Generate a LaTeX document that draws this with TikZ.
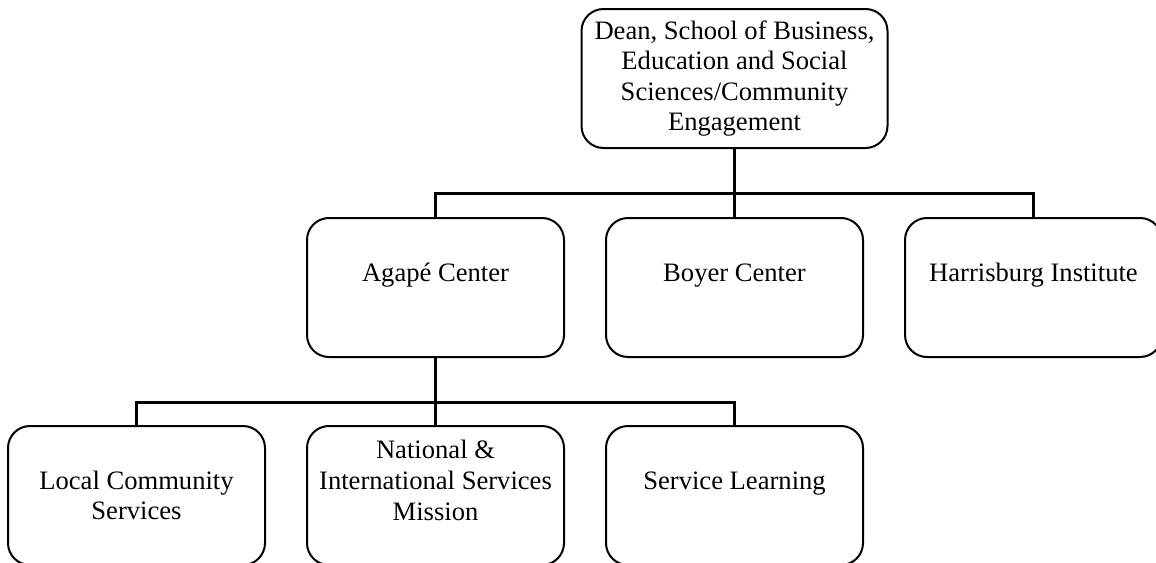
\documentclass[tikz,border=0pt]{standalone}
\usepackage{fontspec}
\setmainfont{Liberation Serif}
\usepackage{tikz}

\begin{document}
\begin{tikzpicture}[
    x=0.5pt, y=-0.5pt,
    unit/.style={draw, line width=1pt, rounded corners=11pt,
      minimum width=128.5pt, minimum height=69.5pt,
      inner sep=0pt, align=center,
      font=\fontsize{13.3}{15.3}\selectfont},
    link/.style={line width=1.5pt}
  ]
  \useasboundingbox (0,0) rectangle (1156,562);

  % верхний блок
  \node[unit, minimum width=153pt] (dean) at (734.5,78.5)
    {Dean, School of Business,\\Education and Social\\Sciences/Community\\Engagement};

  % второй уровень
  \node[unit] (agape)  at (435.5,287.5)  {Agapé Center\\ \mbox{}};
  \node[unit] (boyer)  at (734.5,287.5)  {Boyer Center\\ \mbox{}};
  \node[unit] (harris) at (1033.5,287.5) {Harrisburg Institute\\ \mbox{}};

  % третий уровень
  \node[unit] (local)    at (136.5,495.5) {Local Community\\Services};
  \node[unit] (national) at (435.5,495.5) {National \&\\International Services\\Mission\\ \mbox{}};
  \node[unit] (service)  at (734.5,495.5) {Service Learning\\ \mbox{}};

  % линии связи
  \coordinate (busA) at (734.5,193);
  \draw[link] (dean.south) -- (busA);
  \foreach \n in {agape,boyer,harris}
    \draw[link] (busA) -| (\n.north);

  \coordinate (busB) at (435.5,402);
  \draw[link] (agape.south) -- (busB);
  \foreach \n in {local,national,service}
    \draw[link] (busB) -| (\n.north);
\end{tikzpicture}
\end{document}
